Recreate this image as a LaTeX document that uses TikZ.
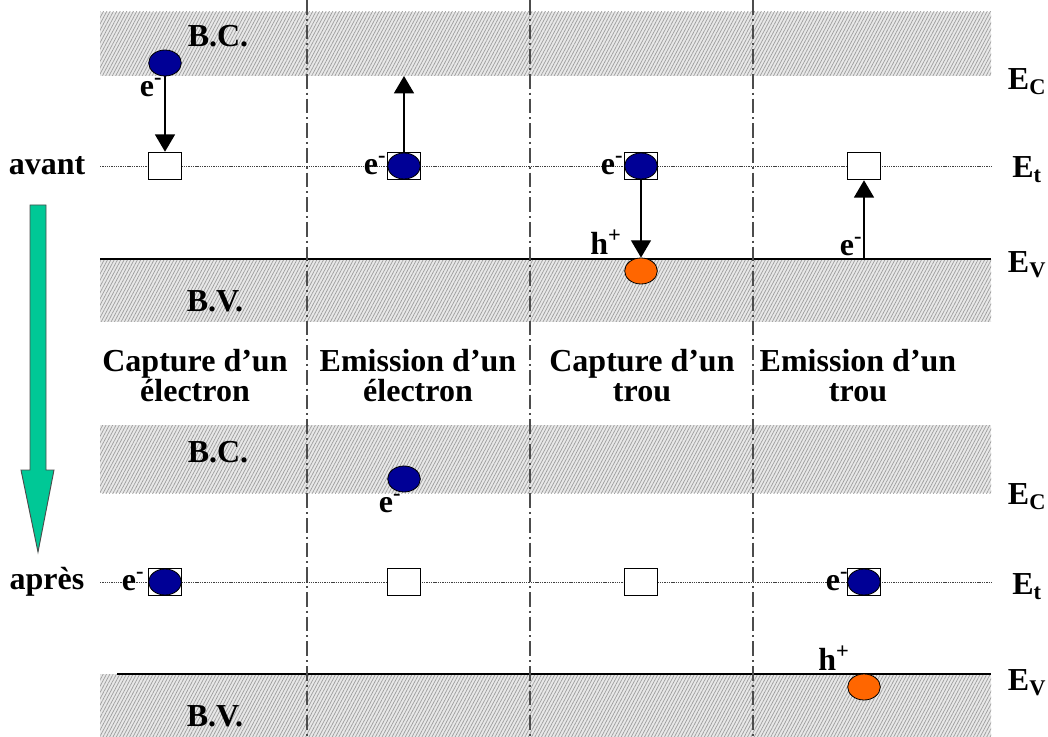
\documentclass[tikz,border=0pt]{standalone}
\usepackage{fontspec}
\setmainfont{Liberation Serif}
\usetikzlibrary{patterns.meta,arrows.meta,shapes.geometric}
\definecolor{navyball}{RGB}{0,0,150}
\definecolor{holeball}{RGB}{255,102,0}
\definecolor{flowgreen}{RGB}{0,200,150}
\begin{document}
\begin{tikzpicture}[x=0.75pt,y=-0.75pt,
  band/.style={draw=none,fill=gray!18,
    postaction={pattern={Lines[angle=62,distance=2.2pt,line width=0.55pt]},pattern color=gray!75}},
  trap/.style={draw,line width=0.9pt,fill=white,minimum width=25pt,minimum height=20.5pt,inner sep=0pt},
  eball/.style={ellipse,draw,line width=0.6pt,fill=navyball,minimum width=24.5pt,minimum height=19.5pt,inner sep=0pt},
  hball/.style={ellipse,draw,line width=0.6pt,fill=holeball,minimum width=24.5pt,minimum height=19.5pt,inner sep=0pt},
  lbl/.style={font=\bfseries\fontsize{24}{22.5}\selectfont,inner sep=0pt},
  jump/.style={-{Triangle[width=15pt,length=13pt]},line width=1.1pt},
  sep/.style={line width=1.5pt,black!70,dash pattern=on 11pt off 3pt on 1.5pt off 3pt},
  level/.style={line width=0.7pt,gray!50!black,dash pattern=on 1pt off 0.7pt},
  edge/.style={line width=1pt}]
\useasboundingbox (0,0) rectangle (1048,737);

% ---------- bands (before) ----------
\fill[band] (100,12) rectangle (991,76);
\fill[band] (100,259) rectangle (991,322);
\draw[edge] (100,259) -- (991,259);
\draw[level] (100,166) -- (991,166);

% ---------- bands (after) ----------
\fill[band] (100,425) rectangle (991,493);
\fill[band] (100,674) rectangle (991,737);
\draw[edge] (117,674) -- (991,674);
\draw[level] (100,582) -- (991,582);

% ---------- column separators ----------
\foreach \sx in {307,530,753} \draw[sep] (\sx,0) -- (\sx,737);

% ---------- band names ----------
\node[lbl] (bc1) at (218,36) {B.C.};
\node[lbl] (bv1) at (215,301) {B.V.};
\node[lbl] (bc2) at (218,452) {B.C.};
\node[lbl] (bv2) at (215,716) {B.V.};

% ---------- level names ----------
\node[lbl] (ec1) at (1027,82) {E\textsubscript{C}};
\node[lbl] (et1) at (1027,170) {E\textsubscript{t}};
\node[lbl] (ev1) at (1027,265) {E\textsubscript{V}};
\node[lbl] (ec2) at (1027,497) {E\textsubscript{C}};
\node[lbl] (et2) at (1027,587) {E\textsubscript{t}};
\node[lbl] (ev2) at (1027,683) {E\textsubscript{V}};

% ---------- time labels and arrow ----------
\node[lbl] (avant) at (47,166) {avant};
\node[lbl] (apres) at (47,582) {après};
\draw[line width=0.7pt,draw=black!70,fill=flowgreen]
  (30,205) -- (46,205) -- (46,470) -- (54,470) -- (38,552) -- (21,470) -- (30,470) -- cycle;

% ---------- process titles ----------
\node[lbl,align=center] (p1) at (195,376) {Capture d’un\\électron};
\node[lbl,align=center] (p2) at (418,376) {Emission d’un\\électron};
\node[lbl,align=center] (p3) at (642,376) {Capture d’un\\trou};
\node[lbl,align=center] (p4) at (858,376) {Emission d’un\\trou};

% ---------- before: electron capture ----------
\node[eball] (c1) at (165,63) {};
\node[trap] (t1) at (165,166) {};
\draw[jump] (c1) -- (t1.north);
\node[lbl] (e1) at (151,88) {e\textsuperscript{-}};

% ---------- before: electron emission ----------
\node[trap] (t2) at (404,166) {};
\node[eball] (c2) at (404,166) {};
\coordinate (top2) at (404,76);
\draw[jump] (t2.north) -- (top2);
\node[lbl] (e2) at (375,166) {e\textsuperscript{-}};

% ---------- before: hole capture ----------
\node[trap] (t3) at (641,166) {};
\node[eball] (c3) at (641,166) {};
\node[hball] (h3) at (641,271) {};
\draw[jump] (t3.south) -- (h3.north);
\node[lbl] (e3) at (612,166) {e\textsuperscript{-}};
\node[lbl] (hp3) at (606,242) {h\textsuperscript{+}};

% ---------- before: hole emission ----------
\node[trap] (t4) at (864,166) {};
\coordinate (bot4) at (864,259);
\draw[jump] (bot4) -- (t4.south);
\node[lbl] (e4) at (851,247) {e\textsuperscript{-}};

% ---------- after ----------
\node[trap] (u1) at (165,582) {};
\node[eball] (d1) at (165,582) {};
\node[lbl] (f1) at (133,582) {e\textsuperscript{-}};

\node[eball] (d2) at (404,479) {};
\node[lbl] (f2) at (390,504) {e\textsuperscript{-}};
\node[trap] (u2) at (404,582) {};

\node[trap] (u3) at (641,582) {};

\node[trap] (u4) at (864,582) {};
\node[eball] (d4) at (864,582) {};
\node[lbl] (f4) at (837,582) {e\textsuperscript{-}};
\node[hball] (g4) at (864,687) {};
\node[lbl] (hp4) at (834,658) {h\textsuperscript{+}};
\end{tikzpicture}
\end{document}
